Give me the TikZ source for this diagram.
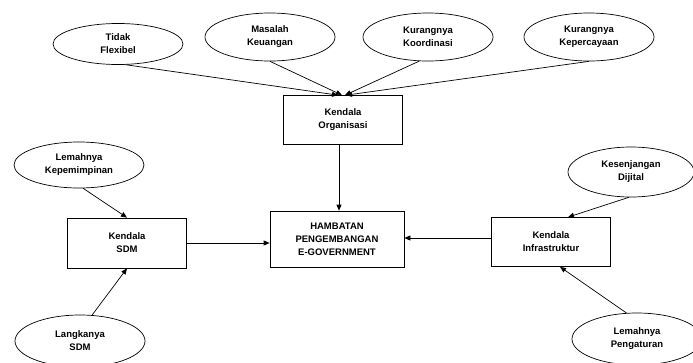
\documentclass[tikz,border=0pt]{standalone}
\usepackage{fontspec}
\setmainfont{Liberation Sans}
\usetikzlibrary{shapes.geometric,arrows.meta}
\tikzset{
  elips/.style={ellipse, draw, line width=0.7pt, minimum width=130pt, minimum height=48pt, inner sep=0pt, align=center, font=\bfseries\fontsize{9.5}{13}\selectfont},
  kotak/.style={rectangle, draw, line width=0.7pt, minimum width=119pt, minimum height=49pt, inner sep=0pt, align=center, font=\bfseries\fontsize{9.5}{13}\selectfont},
  panah/.style={line width=0.7pt, -{Triangle[length=6pt,width=5pt]}}
}
\begin{document}
\begin{tikzpicture}[x=1pt,y=-1pt]

                    \useasboundingbox (0,0) rectangle (693,362);

                    % Elips atas
                    \node[elips, minimum height=41pt] (tf) at (118,44) {Tidak\\Flexibel};
                    \node[elips] (mk) at (270,37) {Masalah\\Keuangan};
                    \node[elips] (kk) at (428,37) {Kurangnya\\Koordinasi};
                    \node[elips] (kp) at (589,37) {Kurangnya\\Kepercayaan};

                    % Elips kiri dan kanan
                    \node[elips, minimum height=46pt] (lk) at (79,165) {Lemahnya\\Kepemimpinan};
                    \node[elips, minimum height=52pt] (ls) at (80,341) {Langkanya\\SDM};
                    \node[elips, minimum width=126pt, minimum height=50pt] (kd) at (631,172) {Kesenjangan\\Dijital};
                    \node[elips, minimum height=52pt] (lp) at (637,339) {Lemahnya\\Pengaturan};

                    % Kotak kendala
                    \node[kotak] (org) at (343,120) {Kendala\\Organisasi};
                    \node[kotak, minimum height=50pt] (sdm) at (127,243) {Kendala\\SDM};
                    \node[kotak] (infra) at (551,242) {Kendala\\Infrastruktur};

                    % Kotak tengah
                    \node[kotak, minimum width=134pt, minimum height=56pt] (hb) at (337,239) {HAMBATAN\\PENGEMBANGAN\\E-GOVERNMENT};

                    % Panah ke Kendala Organisasi
                    \draw[panah] (tf.-70) -- ([xshift=-5]org.north);
                    \draw[panah] (mk.south) -- ([xshift=-1]org.north);
                    \draw[panah] (kk.-110) -- ([xshift=2]org.north);
                    \draw[panah] (kp.south) -- ([xshift=3]org.north);

                    % Panah ke Kendala SDM
                    \draw[panah] (lk.-80) -- (sdm.north);
                    \draw[panah] (ls.65) -- (sdm.south);

                    % Panah ke Kendala Infrastruktur
                    \draw[panah] (kd.-95) -- ([xshift=17]infra.north);
                    \draw[panah] (lp.112) -- ([xshift=9]infra.south);

                    % Panah ke hambatan
                    \draw[panah] ([xshift=-4]org.south) -- ([xshift=-4]org.south |- hb.north);
                    \draw[panah] (sdm.east) -- (sdm.east -| hb.west);
                    \draw[panah] ([yshift=4]infra.west) -- ([yshift=4]infra.west -| hb.east);

                    \end{tikzpicture}
\end{document}
